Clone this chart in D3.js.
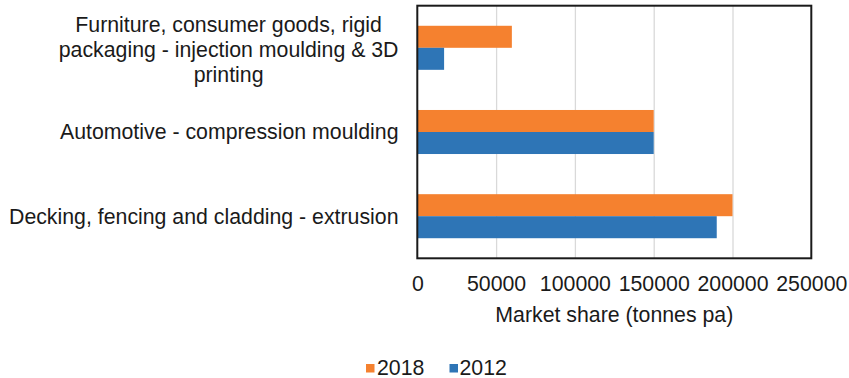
<!DOCTYPE html>
<html>
<head>
<meta charset="utf-8">
<script src="https://cdn.jsdelivr.net/npm/d3@7"></script>
<style>
  html, body { margin: 0; padding: 0; background: #fff; }
  svg { display: block; font-family: "Liberation Sans", Arial, sans-serif; }
</style>
</head>
<body>
<svg id="chart" width="849" height="378"></svg>
<script>
const categories = [
  "Furniture, consumer goods, rigid packaging - injection moulding & 3D printing",
  "Automotive - compression moulding",
  "Decking, fencing and cladding - extrusion"
];
const categoryLines = [
  ["Furniture, consumer goods, rigid", "packaging - injection moulding & 3D", "printing"],
  ["Automotive - compression moulding"],
  ["Decking, fencing and cladding - extrusion"]
];
const series = ["2018", "2012"];
const values2018 = [60000, 150000, 200000];
const values2012 = [17000, 150000, 190000];
const xTicks = [0, 50000, 100000, 150000, 200000, 250000];
const xTitle = "Market share (tonnes pa)";

const colors = { "2018": "#f5812f", "2012": "#2e75b6" };
const textColor = "#1a1a1a";
const fs = "21.3px";

const svg = d3.select("#chart");
const L = 417.3, R = 811.3, T = 5.7, B = 258.3;

const x = d3.scaleLinear().domain([0, 250000]).range([L, R]);
const y = d3.scaleBand().domain(categories).range([T, B]).paddingInner(0.477).paddingOuter(0.2385);
const y1 = d3.scaleBand().domain(series).range([0, y.bandwidth()]);

// gridlines
const xAxis = d3.axisBottom(x).tickValues(xTicks).tickSize(-(B - T)).tickFormat(d => d);
const gAx = svg.append("g").attr("transform", `translate(0,${B})`).call(xAxis);
gAx.select(".domain").remove();
gAx.selectAll(".tick line").attr("stroke", "#d9d9d9").attr("stroke-width", 1.3);
gAx.selectAll(".tick text")
  .attr("y", 0).attr("dy", 0)
  .attr("transform", "translate(0,33)")
  .attr("fill", textColor)
  .style("font-size", fs)
  .style("font-family", "Liberation Sans, Arial, sans-serif");
gAx.selectAll(".tick").filter(d => d === 0 || d === 250000).select("line").remove();

const data = categories.map((c, i) => ({ cat: c, "2018": values2018[i], "2012": values2012[i] }));

const groups = svg.append("g").selectAll("g").data(data).join("g")
  .attr("transform", d => `translate(0,${y(d.cat)})`);
groups.selectAll("rect").data(d => series.map(s => ({ s, v: d[s] }))).join("rect")
  .attr("x", x(0))
  .attr("y", d => y1(d.s))
  .attr("width", d => x(d.v) - x(0))
  .attr("height", y1.bandwidth())
  .attr("fill", d => colors[d.s]);

// frame
svg.append("rect").attr("x", L).attr("y", T).attr("width", R - L).attr("height", B - T)
  .attr("fill", "none").attr("stroke", "#1a1a1a").attr("stroke-width", 2);

// category labels
const labelRight = 398.5;
const lineH = 25;
categories.forEach((c, i) => {
  const lines = categoryLines[i];
  const cy = y(c) + y.bandwidth() / 2;
  const g = svg.append("g");
  const texts = lines.map(l => g.append("text").text(l)
    .attr("fill", textColor).style("font-size", fs));
  const widths = texts.map(t => t.node().getComputedTextLength());
  const maxW = Math.max(...widths);
  const cx = labelRight - maxW / 2;
  const n = lines.length;
  texts.forEach((t, j) => {
    t.attr("text-anchor", "middle").attr("x", cx)
      .attr("y", cy + 7.3 + (j - (n - 1) / 2) * lineH + (n > 1 ? 1.5 : 0));
  });
});

// axis title
svg.append("text").attr("x", (L + R) / 2).attr("y", 322).attr("text-anchor", "middle")
  .attr("fill", textColor).style("font-size", fs).text(xTitle);

// legend
const legendItems = [
  { s: "2018", sx: 366, tx: 377 },
  { s: "2012", sx: 449.5, tx: 459.5 }
];
legendItems.forEach(it => {
  svg.append("rect").attr("x", it.sx).attr("y", 364).attr("width", 8.5).attr("height", 8.5)
    .attr("fill", colors[it.s]);
  svg.append("text").attr("x", it.tx).attr("y", 374.5).attr("fill", textColor)
    .style("font-size", fs).text(it.s);
});
</script>
</body>
</html>
